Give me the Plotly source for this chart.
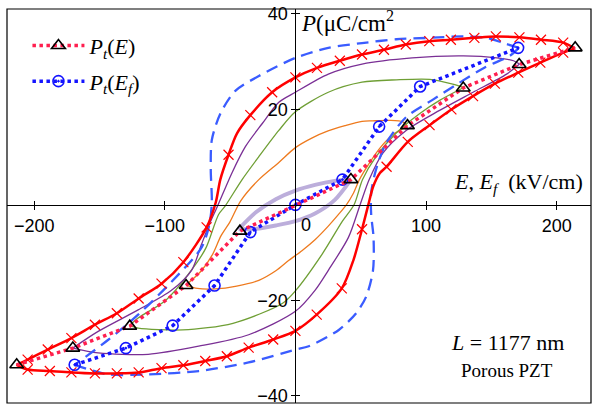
import plotly.graph_objects as go

# ---------------- data ----------------
# E in kV/cm, P in uC/cm^2

# red loop (thick, x markers): line points
RED_UP_E = [214, 205, 188, 171.5, 153.5, 137, 119, 102.5, 84.5, 67.8, 51, 34, 16.5, 0,
            -17.8, -34.5, -44.7, -51.2, -57.5, -61, -68, -85.8, -102.5, -120, -136.7,
            -153.5, -171.5, -189.6, -205, -213.5]
RED_UP_P = [32.8, 34.0, 34.6, 35.1, 35.3, 35.0, 34.6, 34.3, 33.6, 32.5, 31.5, 30.2, 28.7, 26.7,
            23.6, 18.8, 15.0, 10.5, 5.3, 0.5, -4.7, -12.0, -16.5, -19.6, -22.7,
            -25.1, -27.9, -30.3, -32.4, -33.5]
RED_LO_E = [-213.5, -205, -188, -171.5, -153.5, -136.7, -120, -102.5, -85.8, -69, -52.5,
            -35.8, -17, 0, 16.3, 35.5, 44.5, 51, 55.8, 59.6, 64.7, 69.8, 86, 102.7, 119.4,
            136, 152.7, 170.6, 187.5, 205, 214]
RED_LO_P = [-33.5, -34.5, -34.8, -35.1, -35.3, -35.3, -35.1, -34.2, -33.6, -32.7, -31.7,
            -29.9, -28.2, -26.4, -23.0, -17.5, -11.5, -5.1, 0.0, 3.9, 6.7, 8.0, 13.2, 16.7, 20.0,
            22.8, 25.4, 27.7, 29.8, 31.9, 32.8]
# red x-marker positions
RED_MARK_E = [205, 188, 171.5, 153.5, 137, 119, 102.5, 84.5, 67.8, 51, 34, 16.5, 0,
              -17.8, -34.5, -51.2, -68, -85.8, -102.5, -120, -136.7, -153.5, -171.5, -189.6, -205,
              -205, -188, -171.5, -153.5, -136.7, -120, -102.5, -85.8, -69, -52.5, -35.8, -17, 0,
              16.3, 35.5, 51, 69.8, 86, 102.7, 119.4, 136, 152.7, 170.6, 187.5, 205]
RED_MARK_P = [34.0, 34.6, 35.1, 35.3, 35.0, 34.6, 34.3, 33.6, 32.5, 31.5, 30.2, 28.7, 26.7,
              23.6, 18.8, 10.5, -4.7, -12.0, -16.5, -19.6, -22.7, -25.1, -27.9, -30.3, -32.4,
              -34.5, -34.8, -35.1, -35.3, -35.3, -35.1, -34.2, -33.6, -32.7, -31.7, -29.9, -28.2, -26.4,
              -23.0, -17.5, -5.1, 8.0, 13.2, 16.7, 20.0, 22.8, 25.4, 27.7, 29.8, 31.9]

# blue dashed loop
BLUE_UP_E = [171, 159.4, 146.5, 128.6, 102.9, 77.3, 51, 25.2, 0, -28, -46, -57.5, -64,
             -64.8, -64, -65.8, -71.8, -94.8, -120.4, -143.5, -169]
BLUE_UP_P = [32.9, 33.9, 35.0, 35.3, 35.0, 34.7, 33.9, 32.9, 30.8, 27.0, 23.9, 19.1, 13.6,
             7.4, 0.5, -4.0, -8.9, -16.1, -23.0, -28.3, -33.5]
BLUE_LO_E = [-169, -143.5, -112.7, -74, -35.8, 0, 10.2, 33.2, 46.5, 54.2, 59.4, 59.8, 58,
             58, 61.7, 69.4, 84.8, 105, 125, 145, 164.5, 171]
BLUE_LO_P = [-33.5, -35.5, -35.5, -34.8, -33.0, -30.3, -29.6, -26.2, -22.7, -19.2, -13.7, -6.8, -2.0,
             2.5, 7.4, 12.9, 18.4, 22.0, 25.5, 28.8, 31.3, 32.9]

# purple loop
PURPLE_UP_E = [171.6, 167, 154.2, 128.6, 89.4, 51, 25.2, 0, -12.7, -25.5, -38.3, -48.6,
               -60, -65, -71.8, -79.5, -94.9, -120.4, -151, -170.4]
PURPLE_UP_P = [29.5, 30.2, 30.8, 31.2, 30.8, 29.5, 27.4, 23.6, 21.5, 17.0, 12.2, 6.7,
               -0.5, -3.5, -8.2, -13.7, -17.9, -22.0, -26.5, -30.0]
PURPLE_LO_E = [-170.4, -151, -112.7, -74, -35.8, 0, 15, 25.2, 40.6, 49.6, 56.5, 66.8,
               84.8, 110.4, 136, 161.7, 171.6]
PURPLE_LO_P = [-30.0, -31.0, -31.3, -29.6, -27.2, -22.3, -17.9, -13.7, -6.8, 0.1, 5.3, 10.8,
               15.6, 19.8, 23.6, 27.4, 29.5]

# green loop
GREEN_UP_E = [128.8, 120.5, 102.9, 77.3, 51, 25.2, 0, -12.7, -28, -40.8, -53.7, -58.8,
              -68.3, -76, -99, -120.4, -127]
GREEN_UP_P = [24.6, 25.3, 26.3, 26.2, 25.7, 23.6, 19.5, 15.6, 10.1, 5.3, -0.2, -2.0,
              -8.9, -12.3, -19.9, -23.7, -25.3]
GREEN_LO_E = [-127, -120.4, -86.3, -47.8, -9.8, 0, 20.5, 36, 45, 51.4, 61.7, 77, 95,
              110.4, 128.8]
GREEN_LO_P = [-25.3, -25.8, -26.2, -24.8, -20.6, -18.0, -10.3, -3.4, 0.1, 5.3, 10.1, 15.0, 19.1,
              21.9, 24.6]

# orange loop
ORANGE_UP_E = [85.8, 82.3, 72, 59, 51, 38, 25, 12.5, 0, -12.7, -28, -42, -50, -57,
               -63.3, -72, -83.8]
ORANGE_UP_P = [16.5, 17.4, 17.7, 17.6, 17.5, 16.6, 15.5, 14.0, 12.0, 8.9, 5.3, 0.8, -3.5, -6.5,
               -10.3, -13.8, -16.8]
ORANGE_LO_E = [-83.8, -75, -61.4, -45, -28, -15, -5, 5, 15, 25, 33, 39, 44.5, 49, 56.5,
               65, 75, 85.8]
ORANGE_LO_P = [-16.8, -17.5, -17.6, -17.0, -15.8, -13.8, -11.6, -9.6, -7.3, -4.5, -2.0, 0.0,
               2.5, 5.3, 8.7, 12.0, 14.8, 16.5]

# lavender (small) loop
LAV_UP_E = [42.5, 30, 15, 0, -15, -30, -43.5]
LAV_UP_P = [5.3, 5.0, 4.2, 3.0, 1.2, -1.5, -5.1]
LAV_LO_E = [-43.5, -30, -15, 0, 15, 30, 42.5]
LAV_LO_P = [-5.1, -5.0, -4.3, -3.4, -1.8, 1.0, 5.3]

# P_t(E): tips of the loops (triangles)
PT_E_E = [-213.4, -170.4, -126.8, -83.7, -42.5, 42.5, 85.8, 128.5, 171.3, 214.2]
PT_E_P = [-33.5, -30.0, -25.4, -16.9, -5.5, 5.3, 16.6, 24.5, 29.4, 32.9]

# P_t(E_f): circles
PT_EF_E = [-169, -129.8, -94, -61.9, -34.5, 0, 36, 64.1, 95.5, 170.5]
PT_EF_P = [-33.5, -30.0, -25.3, -16.9, -5.7, 0, 5.3, 16.4, 24.8, 32.9]

X_TICKS = [-200, -100, 100, 200]
Y_TICKS = [-40, -20, 20, 40]
X_RANGE = [-220.8, 226.3]
Y_RANGE = [-41.5, 41.04]

# ---------------- styles ----------------
RED = "#ff0000"
PURPLE = "#7a2f95"
GREEN = "#6f9f35"
ORANGE = "#ee7a1e"
LAVENDER = "#bcaedb"
BLUE_DASH = "#3a5cff"
BLUE_DOT = "#1414ff"
PINK_DOT = "#ff1f4f"
SERIF = "Liberation Serif"
SANS = "Liberation Sans"

fig = go.Figure()


def branch(xs, ys, color, width, dash="solid"):
    fig.add_trace(go.Scatter(
        x=xs, y=ys, mode="lines", showlegend=False, hoverinfo="skip",
        line=dict(color=color, width=width, dash=dash, shape="spline", smoothing=0.8)))


branch(LAV_UP_E, LAV_UP_P, LAVENDER, 4)
branch(LAV_LO_E, LAV_LO_P, LAVENDER, 4)
branch(ORANGE_UP_E, ORANGE_UP_P, ORANGE, 1.3)
branch(ORANGE_LO_E, ORANGE_LO_P, ORANGE, 1.3)
branch(GREEN_UP_E, GREEN_UP_P, GREEN, 1.3)
branch(GREEN_LO_E, GREEN_LO_P, GREEN, 1.3)
branch(PURPLE_UP_E, PURPLE_UP_P, PURPLE, 1.3)
branch(PURPLE_LO_E, PURPLE_LO_P, PURPLE, 1.3)
branch(BLUE_UP_E, BLUE_UP_P, BLUE_DASH, 2.3, "12px,7px")
branch(BLUE_LO_E, BLUE_LO_P, BLUE_DASH, 2.3, "12px,7px")
branch(RED_UP_E, RED_UP_P, RED, 2.5)
branch(RED_LO_E, RED_LO_P, RED, 2.5)

fig.add_trace(go.Scatter(
    x=RED_MARK_E, y=RED_MARK_P, mode="markers", showlegend=False, hoverinfo="skip",
    marker=dict(symbol="x-thin", size=10, line=dict(color=RED, width=1.2), color=RED)))

fig.add_trace(go.Scatter(
    x=PT_EF_E, y=PT_EF_P, mode="lines+markers", name="<i>P<sub>t</sub></i>(<i>E<sub>f</sub></i>)",
    legendrank=2, legendgroup="b",
    line=dict(color=BLUE_DOT, width=3.5, dash="dot"),
    marker=dict(symbol="circle-open-dot", size=11, color=BLUE_DOT, line=dict(width=1.6))))

fig.add_trace(go.Scatter(
    x=PT_E_E, y=PT_E_P, mode="lines+markers", name="<i>P<sub>t</sub></i>(<i>E</i>)",
    legendrank=1, legendgroup="a",
    line=dict(color=PINK_DOT, width=3.5, dash="dot"),
    marker=dict(symbol="triangle-up-open", size=12, color="black", line=dict(width=1.6))))

# empty trace so that the overlaid tick-only axes are drawn
fig.add_trace(go.Scatter(x=[], y=[], xaxis="x2", yaxis="y2", showlegend=False,
                         hoverinfo="skip"))

x0_frac = -X_RANGE[0] / (X_RANGE[1] - X_RANGE[0])
y0_frac = -Y_RANGE[0] / (Y_RANGE[1] - Y_RANGE[0])

axis_common = dict(showgrid=False, zeroline=False, ticklen=4, tickwidth=1.1,
                   tickcolor="black", tickfont=dict(family=SANS, size=18, color="black"))

fig.update_layout(
    width=596, height=410,
    margin=dict(l=7, r=5, t=7, b=4),
    paper_bgcolor="white", plot_bgcolor="white",
    xaxis=dict(range=X_RANGE, anchor="free", position=y0_frac, tickvals=X_TICKS,
               ticks="outside", showline=True, linecolor="black", linewidth=1.1,
               **axis_common),
    yaxis=dict(range=Y_RANGE, anchor="free", position=x0_frac, tickvals=Y_TICKS,
               ticks="outside", showline=True, linecolor="black", linewidth=1.1,
               **axis_common),
    xaxis2=dict(range=X_RANGE, overlaying="x", anchor="free", position=y0_frac,
                tickvals=X_TICKS, ticks="inside", showticklabels=False, showline=False,
                **axis_common),
    yaxis2=dict(range=Y_RANGE, overlaying="y", anchor="free", position=x0_frac,
                tickvals=Y_TICKS, ticks="inside", showticklabels=False, showline=False,
                **axis_common),
    legend=dict(x=0.035, y=0.96, xanchor="left", yanchor="top", bgcolor="rgba(0,0,0,0)",
                font=dict(family=SERIF, size=22, color="black"), tracegroupgap=4,
                itemwidth=52),
    shapes=[dict(type="rect", xref="paper", yref="paper", x0=0, x1=1, y0=0, y1=1,
                 line=dict(color="black", width=1.2), layer="above")],
    annotations=[
        dict(x=0, y=0, xref="x", yref="y", text="0", showarrow=False, xshift=10.5,
             yshift=-20, font=dict(family=SANS, size=18, color="black")),
        dict(x=2.6, y=38.4, xref="x", yref="y", text="<i>P</i>(μC/cm<sup>2</sup>",
             showarrow=False, xanchor="left", yanchor="middle",
             font=dict(family=SERIF, size=23, color="black")),
        dict(x=221.7, y=4.66, xref="x", yref="y",
             text="<i>E</i>, <i>E<sub>f</sub></i>  (kV/cm)",
             showarrow=False, xanchor="right", yanchor="middle",
             font=dict(family=SERIF, size=22, color="black")),
        dict(x=162.5, y=-28.9, xref="x", yref="y", text="<i>L</i> = 1177 nm",
             showarrow=False, xanchor="center", yanchor="middle",
             font=dict(family=SERIF, size=22, color="black")),
        dict(x=162.3, y=-34.7, xref="x", yref="y", text="Porous PZT",
             showarrow=False, xanchor="center", yanchor="middle",
             font=dict(family=SERIF, size=19, color="black")),
    ],
)

fig.write_html("out.html")
